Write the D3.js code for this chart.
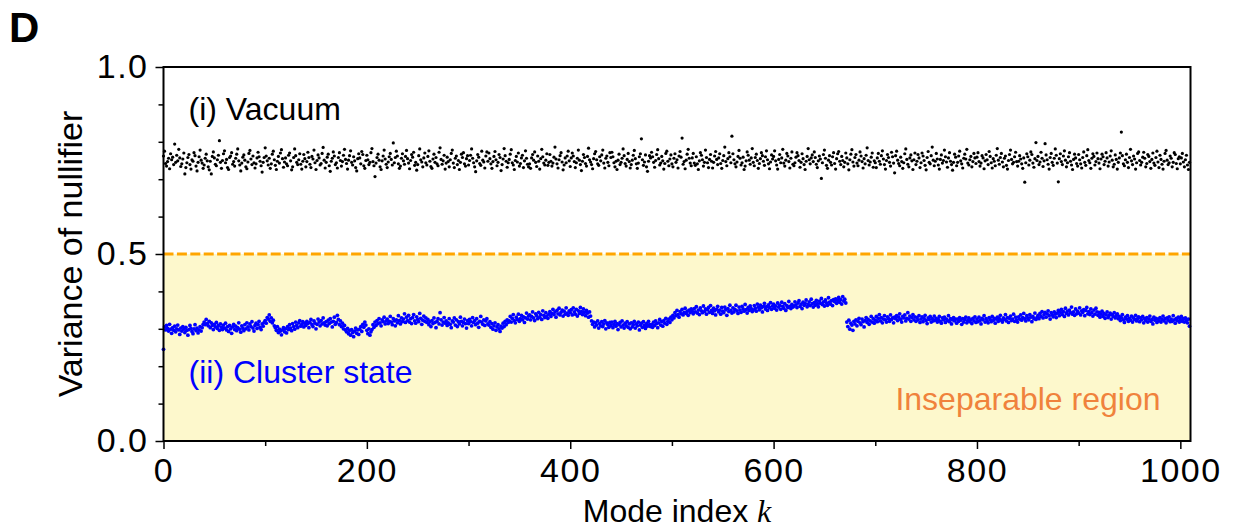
<!DOCTYPE html>
<html>
<head>
<meta charset="utf-8">
<title>Variance of nullifier</title>
<script src="https://d3js.org/d3.v7.min.js"></script>
<style>
  body { margin: 0; background: #fff; }
  text { font-family: "Liberation Sans", Arial, sans-serif; }
</style>
</head>
<body>
<svg id="canvas" width="1236" height="529"></svg>
<script>
// values, variance x 1000, one entry per mode index k = 0, 1, 2, ...
var vacuum = [
762,775,742,735,747,756,728,768,752,759,739,794,745,764,749,780,757,734,741,754,
770,714,731,744,758,766,739,727,752,748,771,763,735,722,745,760,778,751,743,729,
738,756,767,749,733,725,748,714,761,773,757,740,736,752,764,803,745,729,750,768,
776,744,753,731,726,758,762,771,740,747,735,756,767,781,749,738,722,743,759,765,
751,733,728,746,769,777,754,739,762,744,730,741,757,772,760,748,736,719,745,758,
784,762,749,738,756,729,741,767,775,752,737,726,748,761,743,770,779,755,732,746,
757,741,736,764,770,749,725,733,758,781,763,745,739,752,768,740,727,748,766,755,
733,747,772,758,740,731,761,754,778,744,726,750,765,757,738,742,769,785,751,730,
745,759,767,736,721,748,756,773,762,739,744,730,758,771,750,735,747,764,780,753,
742,727,751,763,776,745,738,760,749,731,722,755,768,757,741,774,766,736,729,750,
764,752,739,745,771,782,747,736,707,743,758,767,751,733,726,749,762,778,754,740,
731,746,760,769,753,738,797,744,758,775,762,741,729,735,756,768,749,740,761,777,
755,743,728,750,766,759,772,737,745,724,739,763,781,752,746,733,757,770,744,738,
761,776,748,734,729,754,767,745,758,741,736,772,784,753,740,749,764,727,743,759,
747,733,752,769,778,743,731,756,762,739,750,726,745,767,758,771,741,735,755,763,
738,750,764,781,756,744,733,720,749,766,759,742,737,775,751,746,730,762,773,748,
770,755,741,729,747,761,774,752,736,745,766,758,723,739,754,782,763,748,732,744,
753,767,779,744,738,726,750,761,746,770,735,742,757,764,731,749,776,756,740,733,
741,729,757,766,751,773,745,734,762,748,727,755,780,760,743,738,751,768,737,745,
766,748,735,743,759,786,754,741,730,752,763,771,746,725,738,757,744,762,775,749,
734,757,770,762,747,731,744,756,778,751,739,723,748,766,758,742,735,761,783,752,
746,739,728,755,768,774,752,741,737,760,749,765,778,743,730,756,762,745,736,771,
758,772,760,744,733,748,726,751,767,739,745,756,781,763,742,735,753,769,747,730,
739,751,764,777,755,741,729,743,760,768,808,752,737,746,765,733,721,748,763,757,
772,760,745,732,750,766,779,755,738,743,761,749,727,742,769,775,748,736,754,765,
741,733,756,768,745,752,730,762,774,759,810,740,747,728,751,767,780,756,743,736,
757,769,743,737,760,741,726,749,771,764,752,735,745,778,758,744,731,753,766,748,
730,745,762,774,753,739,757,768,742,729,750,763,786,747,736,755,771,760,744,815,
768,752,741,733,746,761,777,756,738,744,759,726,735,749,773,764,751,740,757,782,
745,736,758,767,750,729,742,755,771,763,748,737,760,776,752,741,728,746,765,754,
761,776,749,738,727,753,766,744,757,780,743,735,751,769,762,747,730,756,773,740,
736,744,759,771,763,750,732,745,768,755,739,726,748,761,782,752,741,757,765,747,
773,758,740,731,749,762,754,702,744,766,778,756,737,729,751,763,745,738,760,771,
742,727,755,768,774,748,739,761,750,733,745,770,757,741,725,752,767,779,746,735,
758,766,743,736,751,773,762,747,730,755,741,764,784,750,738,746,759,770,732,749,
744,731,757,769,748,740,763,776,754,739,727,750,766,758,745,735,772,760,743,717,
763,775,751,742,736,759,747,729,744,768,781,753,740,733,757,765,749,726,752,770,
739,748,766,757,731,744,770,762,750,737,725,758,774,745,741,763,786,751,736,748,
769,754,738,727,753,765,743,750,778,760,746,732,757,771,748,739,724,745,767,759,
736,745,762,775,749,741,730,756,767,754,780,743,738,752,761,733,747,769,757,742,
759,771,747,735,743,763,757,728,749,766,752,739,774,761,744,730,755,748,736,764,
782,751,740,758,769,746,733,756,762,737,727,750,766,778,753,741,745,760,772,747,
735,748,763,754,741,729,757,692,744,768,760,738,751,773,766,743,732,755,798,750,
761,739,746,772,756,734,749,795,765,752,740,727,758,769,745,737,756,781,764,743,
693,755,768,747,739,762,776,751,733,744,760,771,748,738,726,753,767,757,742,735,
766,752,741,730,758,773,745,737,763,779,750,744,729,756,768,761,738,747,770,755,
743,728,754,767,760,739,748,771,757,735,746,762,776,751,733,740,765,753,727,745,
757,770,826,763,741,736,752,767,745,731,758,780,749,739,762,754,727,744,769,773,
750,738,745,759,772,756,733,742,766,761,747,729,753,770,743,737,758,775,746,731,
764,753,740,727,748,769,777,751,739,744,762,756,733,745,771,766,742,728,755,760,
741,757,769,746,733,752,764,738,726,745
];

var cluster = [
245,305,297,309,301,294,312,299,288,303,296,307,292,300,310,297,285,302,294,306,
299,290,304,296,283,298,309,301,293,287,300,311,295,302,289,297,306,294,303,312,
318,311,325,314,308,320,303,316,309,298,312,305,317,301,309,296,313,304,298,310,
302,315,297,306,293,309,300,288,305,312,298,307,295,303,316,299,291,308,302,295,
311,300,316,305,297,313,306,319,302,294,309,315,301,311,320,304,298,313,307,317,
322,315,330,326,337,320,329,316,323,308,303,296,306,290,299,294,284,297,303,292,
300,289,306,298,311,302,295,314,306,299,318,309,303,316,322,307,312,319,305,315,
309,320,314,303,317,325,311,306,321,315,300,312,326,318,308,322,313,329,316,310,
319,308,323,314,327,318,305,320,331,312,317,336,325,311,321,306,315,300,309,297,
292,301,287,296,283,298,290,279,294,302,288,297,285,299,306,293,312,304,318,310,
296,287,300,283,292,298,311,304,318,309,322,314,327,316,308,324,319,331,313,321,
326,314,320,333,318,311,327,321,308,324,316,335,322,313,329,319,326,340,317,331,
322,336,318,327,314,330,338,321,315,332,325,319,341,328,312,323,334,320,329,317,
325,311,319,306,322,314,329,317,303,320,327,313,343,324,310,318,330,315,321,309,
316,327,312,303,321,318,329,310,324,306,319,313,331,320,308,317,326,314,302,322,
314,325,319,308,330,317,322,311,327,315,304,320,333,318,312,324,309,321,327,313,
310,319,304,314,299,308,316,296,305,311,300,293,307,302,315,306,320,311,324,317,
321,333,318,328,338,322,316,331,325,339,320,327,336,324,332,317,329,342,326,334,
337,324,333,345,329,322,340,335,327,344,331,338,325,348,336,330,343,334,328,339,
346,333,341,352,338,345,331,349,340,355,337,344,350,334,347,339,356,342,336,348,
343,351,337,356,345,339,352,334,348,341,357,346,338,353,344,335,349,342,331,345,
334,321,312,318,305,316,310,321,302,314,308,319,306,313,322,300,316,311,304,317,
309,318,303,312,320,307,314,298,311,317,305,321,310,302,315,308,319,304,313,300,
316,305,311,320,302,313,308,318,297,310,315,304,319,309,301,314,307,320,311,306,
312,304,318,309,321,314,303,316,325,310,319,307,322,315,328,312,320,326,317,331,
324,336,329,343,335,349,338,331,346,340,352,337,344,355,341,347,336,350,343,353,
347,340,354,345,359,342,350,338,356,348,343,361,346,353,339,351,357,344,362,349,
341,355,348,337,352,360,345,350,339,357,347,343,358,351,336,354,346,363,349,342,
356,345,352,363,348,341,358,350,344,360,353,347,365,351,342,357,349,361,354,346,
350,362,355,347,366,358,351,363,356,345,360,368,353,359,349,364,357,370,352,361,
366,355,361,350,369,358,363,352,371,360,355,367,349,362,357,373,360,354,365,358,
361,372,364,357,369,375,360,366,354,371,363,368,377,359,365,372,362,379,367,358,
370,363,376,367,359,374,368,381,365,372,361,377,369,363,383,371,366,375,362,378,
373,380,368,376,384,371,378,366,386,374,379,369,318,306,323,299,315,310,296,320,
313,324,308,320,328,316,311,326,319,305,322,330,317,325,312,321,333,318,327,315,
323,333,319,328,338,321,330,316,326,335,324,318,332,327,320,337,325,329,316,331,
327,335,322,331,340,325,318,333,329,337,321,328,343,326,334,320,330,338,324,332,
320,330,324,335,317,326,332,319,328,336,322,314,329,325,333,318,327,321,334,323,
328,318,325,333,320,315,329,324,331,317,326,322,335,319,327,313,324,330,321,326,
315,326,320,330,323,312,327,318,325,331,316,322,329,319,324,314,328,321,332,317,
326,319,331,322,313,328,324,335,318,327,321,316,330,325,319,333,322,328,315,326,
331,320,327,336,323,318,329,325,338,321,330,317,328,334,322,326,339,320,331,324,
318,332,326,337,323,330,341,327,321,335,329,324,338,331,319,333,327,342,325,330,
336,327,341,333,346,329,338,344,331,340,348,335,326,343,337,332,345,339,330,342,
349,335,344,352,338,346,333,355,341,347,337,350,343,358,339,345,336,353,340,347,
342,356,337,348,344,351,335,349,357,340,346,338,353,343,334,350,339,355,345,336,
344,331,339,347,333,341,328,337,345,330,336,342,326,338,333,343,329,335,340,327,
333,322,330,338,324,317,331,326,335,320,328,323,334,318,329,325,336,321,327,332,
319,329,324,333,316,327,322,330,318,326,334,320,325,313,331,323,328,317,326,321,
330,318,325,334,321,327,316,329,323,332,319,326,320,335,324,315,328,322,331,318,
325,333,320,327,318,329,323,316,326,307
];

var xTicks = [0, 200, 400, 600, 800, 1000];
var xMinor = [100, 300, 500, 700, 900];
var yTicks = [0.0, 0.5, 1.0];
var yMinor = [0.1, 0.2, 0.3, 0.4, 0.6, 0.7, 0.8, 0.9];
var threshold = 0.5;
var xMax = 1010;

var svg = d3.select("#canvas");

var margin = {top: 67, right: 45.5, bottom: 88, left: 163.5};
var width = +svg.attr("width") - margin.left - margin.right;
var height = +svg.attr("height") - margin.top - margin.bottom;

var g = svg.append("g")
    .attr("transform", "translate(" + margin.left + "," + margin.top + ")");

// Scales
var x = d3.scaleLinear().domain([0, xMax]).range([0, width]);
var y = d3.scaleLinear().domain([0, 1]).range([height, 0]);

// inseparable region below the threshold
g.append("rect")
    .attr("x", 0)
    .attr("y", y(threshold))
    .attr("width", width)
    .attr("height", y(0) - y(threshold))
    .attr("fill", "#fdf8cc");

g.append("line")
    .attr("x1", 0).attr("x2", width)
    .attr("y1", y(threshold)).attr("y2", y(threshold))
    .attr("stroke", "#ffa500")
    .attr("stroke-width", 3)
    .attr("stroke-dasharray", "10,3.4");

// points
g.append("g").selectAll("circle")
    .data(vacuum)
    .enter().append("circle")
    .attr("cx", function(d, i){ return x(i); })
    .attr("cy", function(d){ return y(d / 1000); })
    .attr("r", 1.6)
    .attr("fill", "#000");

g.append("g").selectAll("circle")
    .data(cluster)
    .enter().append("circle")
    .attr("cx", function(d, i){ return x(i); })
    .attr("cy", function(d){ return y(d / 1000); })
    .attr("r", 1.9)
    .attr("fill", "#0000ff");

// Axes
function styleAxis(sel) {
    sel.select(".domain").remove();
    sel.selectAll(".tick line").attr("stroke", "#000").attr("stroke-width", 1.5);
    sel.selectAll(".tick text")
        .attr("fill", "#000")
        .style("font-family", "'Liberation Sans', Arial, sans-serif")
        .style("font-size", "34px")
        .style("letter-spacing", "1.5px");
}

g.append("g")
    .attr("transform", "translate(0," + height + ")")
    .call(d3.axisBottom(x).tickValues(xTicks).tickSize(8).tickPadding(9).tickFormat(d3.format("d")))
    .call(styleAxis);
g.append("g")
    .attr("transform", "translate(0," + height + ")")
    .call(d3.axisBottom(x).tickValues(xMinor).tickSize(5).tickFormat(""))
    .call(styleAxis);

g.append("g")
    .call(d3.axisLeft(y).tickValues(yTicks).tickSize(8).tickPadding(7).tickFormat(d3.format(".1f")))
    .call(styleAxis);
g.append("g")
    .call(d3.axisLeft(y).tickValues(yMinor).tickSize(5).tickFormat(""))
    .call(styleAxis);

// frame
g.append("rect")
    .attr("width", width)
    .attr("height", height)
    .attr("fill", "none")
    .attr("stroke", "#000")
    .attr("stroke-width", 2);

// annotations
g.append("text")
    .attr("x", 25).attr("y", 53)
    .style("font-size", "32px")
    .attr("fill", "#000")
    .text("(i) Vacuum");

g.append("text")
    .attr("x", 25).attr("y", 316)
    .style("font-size", "32px")
    .attr("fill", "#0000ff")
    .text("(ii) Cluster state");

g.append("text")
    .attr("x", width - 30).attr("y", 343)
    .attr("text-anchor", "end")
    .style("font-size", "32px")
    .attr("fill", "#f0823c")
    .text("Inseparable region");

// axis titles
var xl = svg.append("text")
    .attr("x", margin.left + width / 2)
    .attr("y", 522)
    .attr("text-anchor", "middle")
    .style("font-size", "32px")
    .attr("fill", "#000");
xl.append("tspan").text("Mode index ");
xl.append("tspan")
    .style("font-family", "'Liberation Serif', 'Times New Roman', serif")
    .style("font-style", "italic")
    .text("k");

svg.append("text")
    .attr("transform", "translate(82," + (margin.top + y(0.5)) + ") rotate(-90)")
    .attr("text-anchor", "middle")
    .style("font-size", "34px")
    .attr("fill", "#000")
    .text("Variance of nullifier");

// panel letter
svg.append("text")
    .attr("x", 9).attr("y", 42)
    .style("font-size", "42px")
    .style("font-weight", "bold")
    .attr("fill", "#000")
    .text("D");
</script>
</body>
</html>
